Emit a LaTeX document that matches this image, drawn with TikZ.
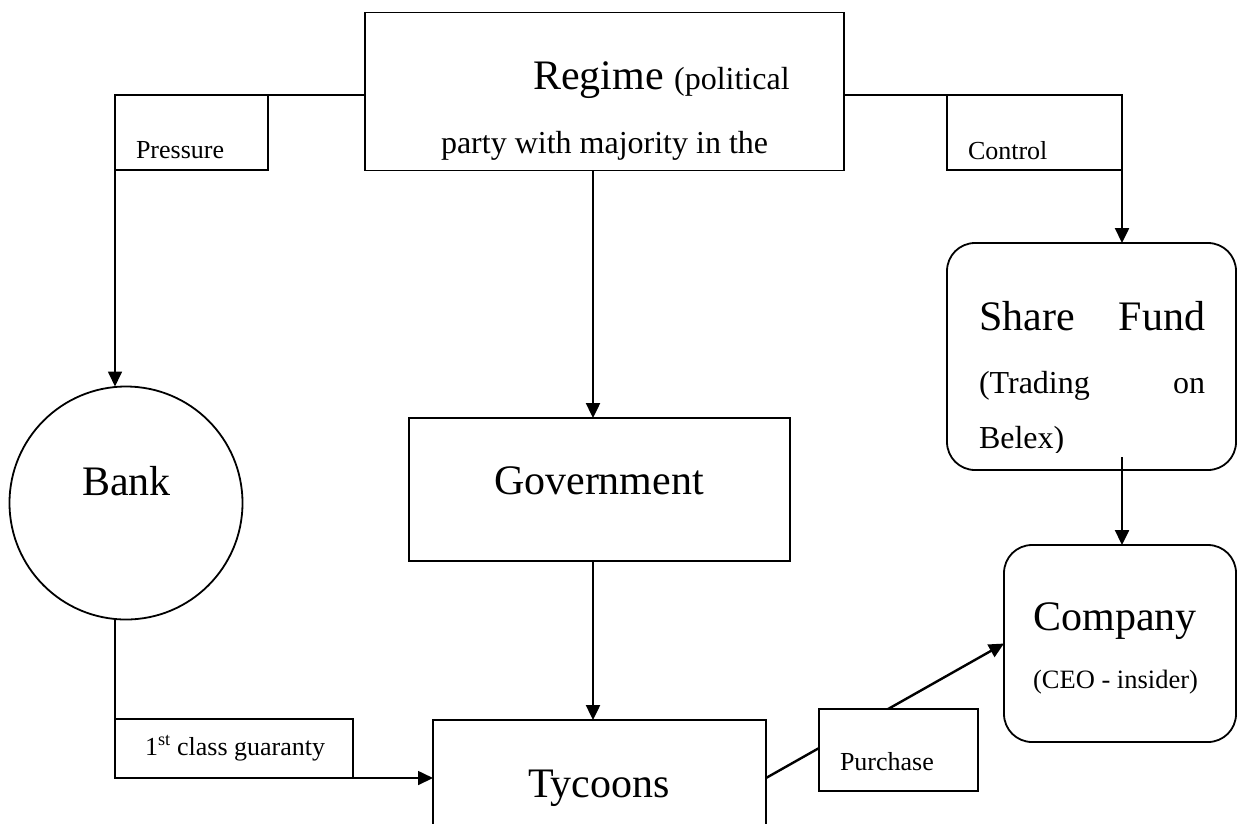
\documentclass[tikz,border=0pt]{standalone}
\usepackage{fontspec}
\setmainfont{Liberation Serif}
\usetikzlibrary{arrows.meta}
\newcommand{\fsA}{\fontsize{42}{48}\selectfont}
\newcommand{\fsB}{\fontsize{32}{38}\selectfont}
\newcommand{\fsC}{\fontsize{26}{31}\selectfont}
\tikzset{
  box/.style={draw, line width=1.8pt, fill=white, inner sep=0pt, outer sep=0pt},
  rbox/.style={box, rounded corners=28pt},
  conn/.style={line width=2.4pt},
  thin conn/.style={line width=1.7pt},
  arr/.style={-{Triangle[length=15pt,width=14pt]}},
  txt/.style={inner sep=0pt, outer sep=0pt}
}
\begin{document}
\begin{tikzpicture}[x=1pt,y=-1pt]
\useasboundingbox[fill=white] (0,0) rectangle (1246,823);
\begin{scope}
\clip (0,0) rectangle (1246,823);
% helper coordinates
\coordinate (pA) at (115,95);
\coordinate (gB) at (115,778);
\coordinate (cA) at (1122,95);
\coordinate (gx) at (593,0);
\coordinate (sfA) at (1122,457);

% shapes (placed first so connectors can refer to them)
\node[box, minimum width=479pt, minimum height=158pt] (regime) at (604.5,91.5) {};
\node[box, circle, minimum size=233pt] (bank) at (126,503) {};
\node[box, minimum width=381pt, minimum height=143pt] (gov) at (599.5,489.5) {};
\node[box, minimum width=333pt, minimum height=160pt] (tycoons) at (599.5,800) {};
\node[rbox, minimum width=289pt, minimum height=227pt] (share) at (1091.5,356.5) {};
\node[rbox, minimum width=232pt, minimum height=197pt] (company) at (1120,643.5) {};

% connectors
\draw[thin conn, arr] (regime.west |- pA) -- (pA) -- (pA |- bank.north);
\draw[thin conn, arr] (gB |- bank.south) -- (gB) -- (gB -| tycoons.west);
\draw[conn, arr] (regime.south -| gx) -- (gov.north -| gx);
\draw[conn, arr] (gov.south -| gx) -- (tycoons.north -| gx);
\draw[conn, arr] (regime.east |- cA) -- (cA) -- (cA |- share.north);
\draw[conn, arr] (sfA) -- (sfA |- company.north);
\draw[conn, arr] (tycoons.east |- gB) -- (company.west);

% label boxes on top of connectors
\node[box, minimum width=153pt, minimum height=75pt] (pressure) at (191.5,132.5) {};
\node[box, minimum width=175pt, minimum height=75pt] (control) at (1034.5,132.5) {};
\node[box, minimum width=238pt, minimum height=59pt] (guaranty) at (234,748.5) {};
\node[box, minimum width=159pt, minimum height=82pt] (purchase) at (898.5,750) {};

% texts
\node[txt, anchor=base west] (tRegime) at (533,89) {\fsA Regime \fsB(political};
\node[txt, anchor=base west] (tParty) at (441,153) {\fsB party with majority in the};
\node[txt, anchor=base west] (tPressure) at (136,158) {\fsC Pressure};
\node[txt, anchor=base west] (tControl) at (968,159) {\fsC Control};
\node[txt, anchor=base] (tBank) at (126.5,495) {\fsA Bank};
\node[txt, anchor=base] (tGov) at (599,494) {\fsA Government};
\node[txt, anchor=base] (tTycoons) at (599,797) {\fsA Tycoons};
\node[txt, anchor=base west] (tGuar) at (145,755) {\fsC 1\textsuperscript{st} class guaranty};
\node[txt, anchor=base west] (tPurchase) at (840,770) {\fsC Purchase};
\node[txt, anchor=base] (tCompany) at (1115,630) {\fsA Company};
\node[txt, anchor=base] (tCEO) at (1115.5,688) {\fontsize{26.5}{31}\selectfont (CEO - insider)};
\node[txt, anchor=base west] (tShare) at (979,330) {\fsA Share};
\node[txt, anchor=base east] (tFund) at (1205,330) {\fsA Fund};
\node[txt, anchor=base west] (tTrading) at (979,393) {\fsB (Trading};
\node[txt, anchor=base east] (tOn) at (1205,393) {\fsB on};
\begin{scope}
\clip (950,400) rectangle (1230,452);
\node[txt, anchor=base west] (tBelex) at (979,448) {\fsB Belex)};
\end{scope}
\end{scope}
\end{tikzpicture}
\end{document}
